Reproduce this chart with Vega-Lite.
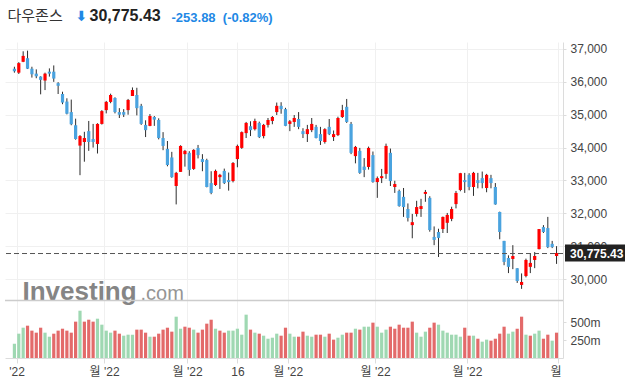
{
  "$schema": "https://vega.github.io/schema/vega-lite/v6.json",
  "width": 558,
  "height": 316,
  "autosize": {"type": "none"},
  "padding": {"left": 5, "top": 42, "right": 67, "bottom": 28},
  "background": "white",
  "config": {
    "view": {"stroke": null},
    "axis": {
      "labelFont": "Liberation Sans, Noto Sans CJK KR, sans-serif",
      "titleFont": "Liberation Sans, Noto Sans CJK KR, sans-serif",
      "zindex": 0
    }
  },
  "datasets": {
    "ohlc": [
      {"i":0,"o":36400,"h":36460,"l":36280,"c":36320,"v":199,"vd":"g"},
      {"i":1,"o":36280,"h":36600,"l":36240,"c":36570,"v":338,"vd":"g"},
      {"i":2,"o":36610,"h":36930,"l":36600,"c":36790,"v":421,"vd":"g"},
      {"i":3,"o":36720,"h":36950,"l":36390,"c":36400,"v":449,"vd":"r"},
      {"i":4,"o":36400,"h":36460,"l":36130,"c":36230,"v":380,"vd":"r"},
      {"i":5,"o":36250,"h":36380,"l":36110,"c":36170,"v":352,"vd":"r"},
      {"i":6,"o":36160,"h":36170,"l":35620,"c":36060,"v":421,"vd":"r"},
      {"i":7,"o":36040,"h":36280,"l":35750,"c":36250,"v":352,"vd":"g"},
      {"i":8,"o":36310,"h":36410,"l":36160,"c":36250,"v":296,"vd":"g"},
      {"i":9,"o":36310,"h":36500,"l":36000,"c":36100,"v":338,"vd":"r"},
      {"i":10,"o":35960,"h":35990,"l":35630,"c":35880,"v":380,"vd":"r"},
      {"i":11,"o":35630,"h":35700,"l":35320,"c":35370,"v":407,"vd":"r"},
      {"i":12,"o":35400,"h":35500,"l":35010,"c":35030,"v":380,"vd":"r"},
      {"i":13,"o":35080,"h":35460,"l":34680,"c":34710,"v":352,"vd":"r"},
      {"i":14,"o":34680,"h":34880,"l":34240,"c":34260,"v":505,"vd":"r"},
      {"i":15,"o":34060,"h":34380,"l":33160,"c":34350,"v":657,"vd":"g"},
      {"i":16,"o":34170,"h":34480,"l":33570,"c":34290,"v":505,"vd":"r"},
      {"i":17,"o":34500,"h":34810,"l":33900,"c":34170,"v":532,"vd":"r"},
      {"i":18,"o":34260,"h":34720,"l":34000,"c":34170,"v":505,"vd":"r"},
      {"i":19,"o":34110,"h":34740,"l":33820,"c":34720,"v":546,"vd":"g"},
      {"i":20,"o":34720,"h":35140,"l":34700,"c":35110,"v":463,"vd":"g"},
      {"i":21,"o":35140,"h":35420,"l":35040,"c":35390,"v":380,"vd":"g"},
      {"i":22,"o":35390,"h":35640,"l":35350,"c":35600,"v":352,"vd":"g"},
      {"i":23,"o":35510,"h":35530,"l":35040,"c":35080,"v":380,"vd":"r"},
      {"i":24,"o":35080,"h":35200,"l":34900,"c":35000,"v":338,"vd":"r"},
      {"i":25,"o":35080,"h":35170,"l":34930,"c":35000,"v":310,"vd":"g"},
      {"i":26,"o":35140,"h":35480,"l":35000,"c":35450,"v":324,"vd":"g"},
      {"i":27,"o":35570,"h":35830,"l":35570,"c":35750,"v":324,"vd":"g"},
      {"i":28,"o":35600,"h":35820,"l":34980,"c":35200,"v":394,"vd":"r"},
      {"i":29,"o":35270,"h":35330,"l":34690,"c":34720,"v":394,"vd":"r"},
      {"i":30,"o":34690,"h":34830,"l":34320,"c":34530,"v":352,"vd":"r"},
      {"i":31,"o":34660,"h":35020,"l":34650,"c":34960,"v":296,"vd":"g"},
      {"i":32,"o":34930,"h":34960,"l":34660,"c":34850,"v":296,"vd":"r"},
      {"i":33,"o":34840,"h":34890,"l":34250,"c":34290,"v":338,"vd":"r"},
      {"i":34,"o":34290,"h":34470,"l":33920,"c":34050,"v":394,"vd":"r"},
      {"i":35,"o":33960,"h":34200,"l":33430,"c":33470,"v":421,"vd":"r"},
      {"i":36,"o":33700,"h":33870,"l":33080,"c":33100,"v":366,"vd":"r"},
      {"i":37,"o":32830,"h":33260,"l":32270,"c":33230,"v":574,"vd":"g"},
      {"i":38,"o":33260,"h":34070,"l":33260,"c":34050,"v":407,"vd":"g"},
      {"i":39,"o":33800,"h":33930,"l":33420,"c":33900,"v":435,"vd":"r"},
      {"i":40,"o":33840,"h":33890,"l":33140,"c":33320,"v":421,"vd":"r"},
      {"i":41,"o":33350,"h":33950,"l":33320,"c":33930,"v":394,"vd":"g"},
      {"i":42,"o":33990,"h":34080,"l":33670,"c":33770,"v":352,"vd":"r"},
      {"i":43,"o":33650,"h":33800,"l":33280,"c":33560,"v":394,"vd":"r"},
      {"i":44,"o":33620,"h":33660,"l":32790,"c":32800,"v":477,"vd":"r"},
      {"i":45,"o":32920,"h":33280,"l":32580,"c":32620,"v":532,"vd":"r"},
      {"i":46,"o":32860,"h":33330,"l":32830,"c":33290,"v":407,"vd":"g"},
      {"i":47,"o":33100,"h":33200,"l":32740,"c":33170,"v":380,"vd":"r"},
      {"i":48,"o":33290,"h":33360,"l":32890,"c":32920,"v":352,"vd":"r"},
      {"i":49,"o":33010,"h":33240,"l":32690,"c":32950,"v":380,"vd":"g"},
      {"i":50,"o":32980,"h":33560,"l":32940,"c":33530,"v":380,"vd":"g"},
      {"i":51,"o":33650,"h":34090,"l":33400,"c":34050,"v":407,"vd":"g"},
      {"i":52,"o":33990,"h":34490,"l":33960,"c":34470,"v":324,"vd":"g"},
      {"i":53,"o":34440,"h":34780,"l":34290,"c":34750,"v":602,"vd":"g"},
      {"i":54,"o":34650,"h":34800,"l":34350,"c":34530,"v":394,"vd":"r"},
      {"i":55,"o":34560,"h":34880,"l":34520,"c":34810,"v":352,"vd":"g"},
      {"i":56,"o":34750,"h":34790,"l":34290,"c":34320,"v":338,"vd":"r"},
      {"i":57,"o":34350,"h":34720,"l":34280,"c":34690,"v":310,"vd":"g"},
      {"i":58,"o":34690,"h":34900,"l":34610,"c":34840,"v":268,"vd":"g"},
      {"i":59,"o":34810,"h":34960,"l":34710,"c":34930,"v":282,"vd":"g"},
      {"i":60,"o":35080,"h":35370,"l":34990,"c":35270,"v":338,"vd":"g"},
      {"i":61,"o":35270,"h":35380,"l":35030,"c":35170,"v":310,"vd":"r"},
      {"i":62,"o":35170,"h":35210,"l":34650,"c":34660,"v":421,"vd":"r"},
      {"i":63,"o":34720,"h":34840,"l":34500,"c":34800,"v":338,"vd":"g"},
      {"i":64,"o":34780,"h":34990,"l":34630,"c":34900,"v":296,"vd":"g"},
      {"i":65,"o":34870,"h":35080,"l":34560,"c":34630,"v":296,"vd":"r"},
      {"i":66,"o":34500,"h":34590,"l":34290,"c":34410,"v":366,"vd":"r"},
      {"i":67,"o":34410,"h":34690,"l":34170,"c":34560,"v":310,"vd":"g"},
      {"i":68,"o":34530,"h":34900,"l":34470,"c":34720,"v":296,"vd":"g"},
      {"i":69,"o":34630,"h":34690,"l":34280,"c":34290,"v":324,"vd":"r"},
      {"i":70,"o":34410,"h":34630,"l":34080,"c":34200,"v":324,"vd":"r"},
      {"i":71,"o":34170,"h":34590,"l":34120,"c":34560,"v":296,"vd":"g"},
      {"i":72,"o":34630,"h":34870,"l":34380,"c":34410,"v":338,"vd":"r"},
      {"i":73,"o":34320,"h":34520,"l":34200,"c":34410,"v":255,"vd":"r"},
      {"i":74,"o":34380,"h":34940,"l":34350,"c":34900,"v":282,"vd":"g"},
      {"i":75,"o":34930,"h":35300,"l":34900,"c":35140,"v":324,"vd":"g"},
      {"i":76,"o":35240,"h":35480,"l":34750,"c":34780,"v":352,"vd":"r"},
      {"i":77,"o":34720,"h":34780,"l":33800,"c":33840,"v":352,"vd":"r"},
      {"i":78,"o":33740,"h":34050,"l":33520,"c":34020,"v":407,"vd":"g"},
      {"i":79,"o":33900,"h":33990,"l":33200,"c":33230,"v":394,"vd":"r"},
      {"i":80,"o":33420,"h":33680,"l":33100,"c":33320,"v":435,"vd":"g"},
      {"i":81,"o":33410,"h":34030,"l":33330,"c":33990,"v":435,"vd":"g"},
      {"i":82,"o":33770,"h":33880,"l":32930,"c":32950,"v":491,"vd":"r"},
      {"i":83,"o":32950,"h":33120,"l":32470,"c":33070,"v":435,"vd":"g"},
      {"i":84,"o":33070,"h":33350,"l":32920,"c":33130,"v":352,"vd":"g"},
      {"i":85,"o":33200,"h":34120,"l":33050,"c":34050,"v":394,"vd":"g"},
      {"i":86,"o":33840,"h":33970,"l":32830,"c":32980,"v":435,"vd":"r"},
      {"i":87,"o":32800,"h":32990,"l":32620,"c":32890,"v":407,"vd":"r"},
      {"i":88,"o":32680,"h":32720,"l":32200,"c":32220,"v":463,"vd":"r"},
      {"i":89,"o":32500,"h":32770,"l":31890,"c":32190,"v":421,"vd":"r"},
      {"i":90,"o":32130,"h":32300,"l":31750,"c":31860,"v":421,"vd":"r"},
      {"i":91,"o":31640,"h":31980,"l":31240,"c":31730,"v":505,"vd":"r"},
      {"i":92,"o":31980,"h":32380,"l":31900,"c":32190,"v":352,"vd":"g"},
      {"i":93,"o":32130,"h":32440,"l":31890,"c":32220,"v":296,"vd":"g"},
      {"i":94,"o":32590,"h":32710,"l":32350,"c":32650,"v":366,"vd":"g"},
      {"i":95,"o":32470,"h":32520,"l":31440,"c":31490,"v":421,"vd":"r"},
      {"i":96,"o":31280,"h":31600,"l":31030,"c":31190,"v":491,"vd":"r"},
      {"i":97,"o":31430,"h":31530,"l":30670,"c":31250,"v":463,"vd":"g"},
      {"i":98,"o":31520,"h":31900,"l":31400,"c":31890,"v":380,"vd":"g"},
      {"i":99,"o":31710,"h":32010,"l":31400,"c":31950,"v":352,"vd":"g"},
      {"i":100,"o":31830,"h":32200,"l":31760,"c":32130,"v":324,"vd":"g"},
      {"i":101,"o":32280,"h":32680,"l":32150,"c":32620,"v":324,"vd":"g"},
      {"i":102,"o":32710,"h":33230,"l":32670,"c":33220,"v":296,"vd":"g"},
      {"i":103,"o":33010,"h":33230,"l":32620,"c":32950,"v":421,"vd":"r"},
      {"i":104,"o":33170,"h":33220,"l":32700,"c":32800,"v":310,"vd":"r"},
      {"i":105,"o":32800,"h":33260,"l":32530,"c":33230,"v":310,"vd":"g"},
      {"i":106,"o":33010,"h":33230,"l":32760,"c":32920,"v":268,"vd":"r"},
      {"i":107,"o":33070,"h":33270,"l":32760,"c":32920,"v":227,"vd":"g"},
      {"i":108,"o":32770,"h":33200,"l":32640,"c":33170,"v":255,"vd":"g"},
      {"i":109,"o":33070,"h":33170,"l":32760,"c":32920,"v":241,"vd":"r"},
      {"i":110,"o":32800,"h":32920,"l":32260,"c":32270,"v":268,"vd":"r"},
      {"i":111,"o":32040,"h":32050,"l":31210,"c":31430,"v":338,"vd":"r"},
      {"i":112,"o":31160,"h":31160,"l":30420,"c":30520,"v":435,"vd":"r"},
      {"i":113,"o":30640,"h":30720,"l":30180,"c":30370,"v":338,"vd":"g"},
      {"i":114,"o":30610,"h":31030,"l":30300,"c":30700,"v":366,"vd":"g"},
      {"i":115,"o":30330,"h":30330,"l":29880,"c":29940,"v":407,"vd":"r"},
      {"i":116,"o":29820,"h":30170,"l":29700,"c":29910,"v":574,"vd":"r"},
      {"i":117,"o":30090,"h":30620,"l":30050,"c":30580,"v":324,"vd":"g"},
      {"i":118,"o":30370,"h":30790,"l":30180,"c":30490,"v":310,"vd":"r"},
      {"i":119,"o":30580,"h":30820,"l":30330,"c":30700,"v":338,"vd":"g"},
      {"i":120,"o":30910,"h":31520,"l":30900,"c":31520,"v":380,"vd":"g"},
      {"i":121,"o":31580,"h":31640,"l":31400,"c":31430,"v":268,"vd":"r"},
      {"i":122,"o":31550,"h":31890,"l":30940,"c":30970,"v":324,"vd":"r"},
      {"i":123,"o":31070,"h":31160,"l":30940,"c":30970,"v":241,"vd":"g"},
      {"i":124,"o":30700,"h":31000,"l":30460,"c":30790,"v":352,"vd":"r"}
    ],
    "last": [{"p": 30775.43}]
  },
  "resolve": {"scale": {"y": "independent"}, "axis": {"x": "independent", "y": "independent"}},
  "layer": [
    {
      "data": {"name": "ohlc"},
      "mark": {"type": "bar", "width": 3.2},
      "encoding": {
        "x": {"field": "i", "type": "quantitative", "scale": {"domain": [-1.01, 124.33], "nice": false, "zero": false},
          "axis": {"orient": "bottom", "labels": false, "ticks": false, "domain": false, "grid": false, "title": "다우존스", "titleX": 2, "titleY": -338, "titleAlign": "left", "titleBaseline": "alphabetic", "titleFontSize": 15, "titleFontWeight": "normal", "titleColor": "#333333", "titleFont": "Noto Sans CJK KR"}},
        "y": {"field": "v", "type": "quantitative", "scale": {"domain": [0, 4390], "nice": false},
          "axis": {"orient": "right", "values": [250, 500], "labelExpr": "datum.value + 'm'", "grid": false, "domain": false, "ticks": true, "tickSize": 3, "tickColor": "#dcdcdc", "labelPadding": 4, "labelFontSize": 12, "labelColor": "#444444", "title": "-253.88\u00a0 (-0.82%)", "titleAngle": 0, "titleX": -392, "titleY": -21, "titleAlign": "left", "titleBaseline": "alphabetic", "titleFontSize": 13, "titleFontWeight": "bold", "titleColor": "#1e88e5"}},
        "color": {"field": "vd", "type": "nominal", "scale": {"domain": ["r", "g"], "range": ["#e36a6a", "#9fd8b2"]}, "legend": null}
      }
    },
    {
      "data": {"name": "ohlc"},
      "mark": {"type": "rule", "color": "#2d2d2d", "strokeWidth": 1},
      "encoding": {
        "x": {"field": "i", "type": "quantitative", "scale": {"domain": [-1.01, 124.33], "nice": false, "zero": false},
          "axis": {"orient": "bottom", "values": [0.5, 20.5, 39.5, 51, 62.5, 82.5, 103.5, 124.33], "labelExpr": "datum.value < 1 ? \"'22\" : datum.value == 51 ? '16' : datum.value > 124 ? '월' : \"월 '22\"", "grid": true, "gridColor": "#f0f0f0", "domain": true, "domainColor": "#dcdcdc", "ticks": true, "tickColor": "#dcdcdc", "tickSize": 5, "labelFlush": 8, "labelFlushOffset": 3, "labelPadding": 3, "labelFontSize": 12, "labelColor": "#444444", "title": "30,775.43", "titleX": 84, "titleY": -338, "titleAlign": "left", "titleBaseline": "alphabetic", "titleFontSize": 16, "titleFontWeight": "bold", "titleColor": "#222222", "titleFont": "Liberation Sans"}},
        "y": {"field": "l", "type": "quantitative", "scale": {"domain": [27596, 37213], "nice": false, "zero": false},
          "axis": {"orient": "right", "values": [30000, 31000, 32000, 33000, 34000, 35000, 36000, 37000], "format": ",.0f", "grid": true, "gridColor": "#f0f0f0", "domain": true, "domainColor": "#dcdcdc", "ticks": true, "tickSize": 3, "tickColor": "#dcdcdc", "labelPadding": 4, "labelFontSize": 12, "labelColor": "#444444", "title": "⬇", "titleAngle": 0, "titleX": -488, "titleY": -22, "titleAlign": "left", "titleBaseline": "alphabetic", "titleFontSize": 14, "titleFontWeight": "bold", "titleColor": "#1e88e5", "titleFont": "DejaVu Sans"}},
        "y2": {"field": "h"}
      }
    },
    {
      "data": {"name": "ohlc"},
      "mark": {"type": "bar", "width": 3.2},
      "encoding": {
        "x": {"field": "i", "type": "quantitative", "scale": {"domain": [-1.01, 124.33], "nice": false, "zero": false},
          "axis": {"orient": "bottom", "labels": false, "ticks": false, "domain": false, "grid": false, "title": "Investing", "titleX": 17, "titleY": -59, "titleAlign": "left", "titleBaseline": "alphabetic", "titleFontSize": 26, "titleFontWeight": "bold", "titleColor": "#858585", "titleFont": "Liberation Sans"}},
        "y": {"field": "o", "type": "quantitative", "scale": {"domain": [27596, 37213], "nice": false, "zero": false}, "axis": null},
        "y2": {"field": "c"},
        "color": {"condition": {"test": "datum.c > datum.o", "value": "#ff0000"}, "value": "#4aa3df"}
      }
    },
    {
      "data": {"name": "last"},
      "mark": {"type": "rule", "color": "#555555", "strokeWidth": 1, "strokeDash": [5, 3]},
      "encoding": {
        "y": {"field": "p", "type": "quantitative", "scale": {"domain": [27596, 37213], "nice": false, "zero": false},
          "axis": {"orient": "right", "labels": false, "ticks": false, "domain": false, "grid": false, "title": ".com", "titleAngle": 0, "titleX": -423, "titleY": 257, "titleAlign": "left", "titleBaseline": "alphabetic", "titleFontSize": 20, "titleFontWeight": "normal", "titleColor": "#959595", "titleFont": "Liberation Sans"}}
      }
    },
    {
      "data": {"name": "last"},
      "mark": {"type": "rule", "color": "#cccccc", "strokeWidth": 1.5},
      "encoding": {
        "y": {"datum": 29346, "type": "quantitative", "scale": {"domain": [27596, 37213], "nice": false, "zero": false}, "axis": null}
      }
    },
    {
      "data": {"name": "last"},
      "mark": {"type": "rect", "color": "#222222", "xOffset": 2, "x2Offset": 62, "yOffset": -9, "y2Offset": 8},
      "encoding": {
        "x": {"value": "width"},
        "x2": {"value": "width"},
        "y": {"field": "p", "type": "quantitative", "scale": {"domain": [27596, 37213], "nice": false, "zero": false}, "axis": null},
        "y2": {"field": "p"}
      }
    },
    {
      "data": {"name": "last"},
      "mark": {"type": "text", "color": "#ffffff", "align": "left", "baseline": "middle", "dx": 7, "fontSize": 12, "fontWeight": "bold", "font": "Liberation Sans"},
      "encoding": {
        "x": {"value": "width"},
        "y": {"field": "p", "type": "quantitative", "scale": {"domain": [27596, 37213], "nice": false, "zero": false}, "axis": null},
        "text": {"field": "p", "type": "quantitative", "format": ",.2f"}
      }
    }
  ]
}
